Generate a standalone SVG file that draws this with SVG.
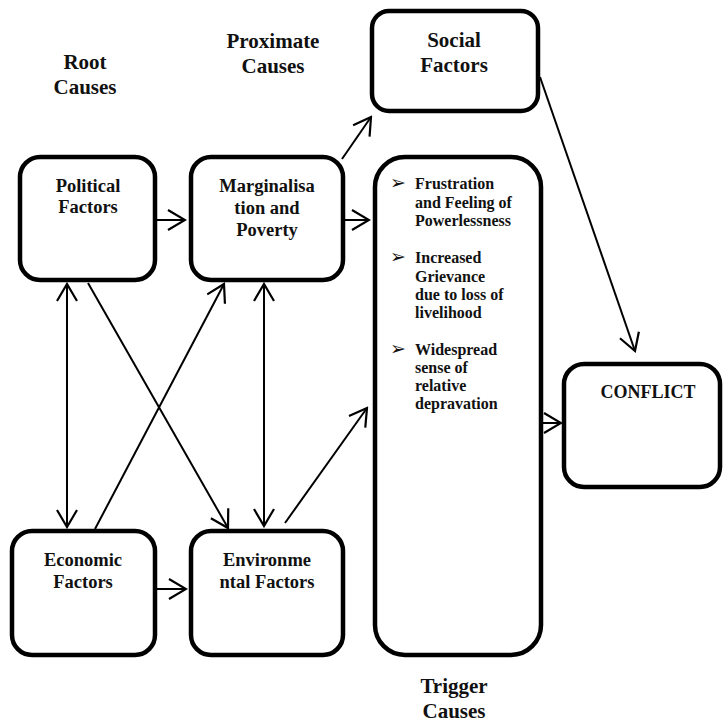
<svg xmlns="http://www.w3.org/2000/svg" width="724" height="723" viewBox="0 0 724 723">
  <style>
    .box { fill: #fff; stroke: #000; stroke-width: 4.5; }
    .lbl { font-family: "Liberation Serif", "Times New Roman", serif; font-weight: bold; fill: #111; text-anchor: middle; }
    .h { font-size: 21px; }
    .n { font-size: 18.5px; }
    .b { font-family: "Liberation Serif", "Times New Roman", serif; font-weight: bold; font-size: 16px; fill: #111; }
    .bul { font-family: "DejaVu Sans", sans-serif; font-size: 19px; fill: #111; }
    .con { fill: none; stroke: #000; stroke-width: 2; marker-end: url(#arr); }
    .dbl { marker-start: url(#arr); }
  </style>
  <defs>
    <marker id="arr" viewBox="0 0 20 22" refX="18" refY="11" markerWidth="20" markerHeight="22" markerUnits="userSpaceOnUse" orient="auto-start-reverse">
      <path d="M1,1 L18,11 L1,21" fill="none" stroke="#000" stroke-width="2.2"/>
    </marker>
  </defs>

  <!-- column headings -->
  <text class="lbl h" x="85" y="69">Root</text>
  <text class="lbl h" x="85" y="94">Causes</text>
  <text class="lbl h" x="273" y="48">Proximate</text>
  <text class="lbl h" x="273" y="73">Causes</text>
  <text class="lbl h" x="454" y="693">Trigger</text>
  <text class="lbl h" x="454" y="718">Causes</text>

  <!-- connectors -->
  <g id="connectors">
    <line class="con" x1="157" y1="220" x2="185" y2="220"/>
    <line class="con" x1="345" y1="220" x2="369" y2="220"/>
    <line class="con" x1="157" y1="589" x2="186" y2="589"/>
    <line class="con" x1="543" y1="423" x2="561" y2="423"/>
    <line class="con" x1="342" y1="159" x2="371" y2="117"/>
    <line class="con" x1="540" y1="77" x2="635" y2="351"/>
    <line class="con dbl" x1="67" y1="284" x2="67" y2="527"/>
    <line class="con dbl" x1="264" y1="284" x2="264" y2="526"/>
    <line class="con" x1="88" y1="283" x2="228" y2="528"/>
    <line class="con" x1="95" y1="529" x2="224" y2="284"/>
    <line class="con" x1="285" y1="523" x2="367" y2="408"/>
  </g>

  <g id="social">
    <rect class="box" x="372" y="11" width="166" height="100" rx="17"/>
    <text class="lbl h" x="454" y="47">Social</text>
    <text class="lbl h" x="454" y="72">Factors</text>
  </g>

  <g id="political">
    <rect class="box" x="20" y="157" width="135" height="123" rx="20"/>
    <text class="lbl n" x="88" y="192">Political</text>
    <text class="lbl n" x="88" y="213">Factors</text>
  </g>

  <g id="marginalisation">
    <rect class="box" x="191" y="157" width="152" height="123" rx="20"/>
    <text class="lbl n" x="267" y="192">Marginalisa</text>
    <text class="lbl n" x="267" y="214">tion and</text>
    <text class="lbl n" x="267" y="236">Poverty</text>
  </g>

  <g id="trigger">
    <rect class="box" x="375" y="157" width="166" height="498" rx="30"/>
    <text class="bul" x="390" y="189">➢</text>
    <text class="b" x="415" y="189">Frustration</text>
    <text class="b" x="415" y="208">and Feeling of</text>
    <text class="b" x="415" y="226">Powerlessness</text>
    <text class="bul" x="390" y="263">➢</text>
    <text class="b" x="415" y="263">Increased</text>
    <text class="b" x="415" y="282">Grievance</text>
    <text class="b" x="415" y="300">due to loss of</text>
    <text class="b" x="415" y="318">livelihood</text>
    <text class="bul" x="390" y="355">➢</text>
    <text class="b" x="415" y="355">Widespread</text>
    <text class="b" x="415" y="373">sense of</text>
    <text class="b" x="415" y="391">relative</text>
    <text class="b" x="415" y="409">depravation</text>
  </g>

  <g id="conflict">
    <rect class="box" x="564" y="364" width="156" height="123" rx="20"/>
    <text class="lbl" x="648" y="398" font-size="18px">CONFLICT</text>
  </g>

  <g id="economic">
    <rect class="box" x="12" y="531" width="143" height="124" rx="20"/>
    <text class="lbl n" x="83" y="566">Economic</text>
    <text class="lbl n" x="83" y="588">Factors</text>
  </g>

  <g id="environmental">
    <rect class="box" x="191" y="531" width="152" height="124" rx="20"/>
    <text class="lbl n" x="267" y="566">Environme</text>
    <text class="lbl n" x="267" y="588">ntal Factors</text>
  </g>
</svg>
